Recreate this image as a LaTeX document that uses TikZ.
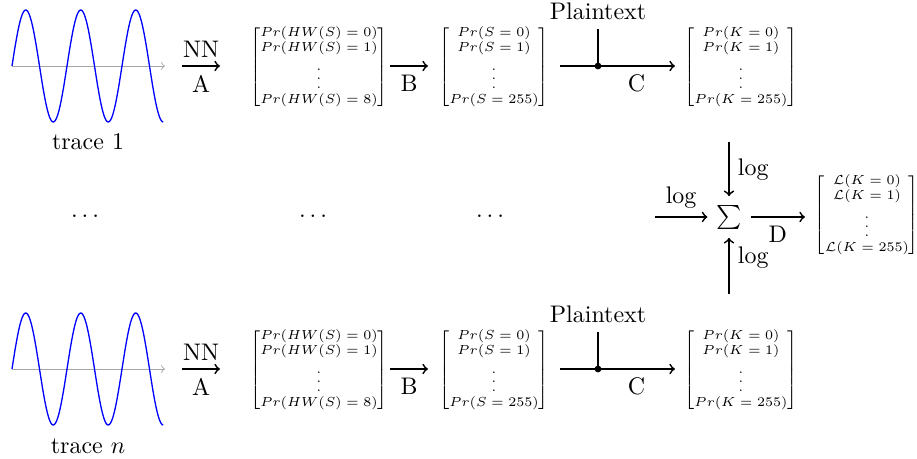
\documentclass[11pt,tikz,border=0pt]{standalone}
\usepackage{amsmath}
\begin{document}
\begin{tikzpicture}[x=0.01605cm, y=-0.01605cm, thick,
        mat/.style={inner sep=0pt, font=\tiny\setlength{\arraycolsep}{2pt}},
        dot/.style={circle, fill, inner sep=1.1pt}]
    \useasboundingbox (0,0) rectangle (917,459);

    % trace 1 a trace n
    \foreach \r/\yy/\name in {1/66/trace 1, n/369/trace $n$}{
        % signal
        \draw[->, thin, gray!70] (12,\yy) -- (165,\yy);
        \draw[blue, semithick] plot[domain=0:990, samples=150, smooth] ({12+\x/360*55}, {\yy-56*sin(\x)});
        \node[anchor=base] (tr\r) at (88,\yy+84) {\name};

        % matice
        \node[mat] (hw\r) at (319,\yy+1) {$\begin{bmatrix}Pr(HW(S)=0)\\Pr(HW(S)=1)\\\vdots\\Pr(HW(S)=8)\end{bmatrix}$};
        \node[mat] (s\r) at (494,\yy+1) {$\begin{bmatrix}Pr(S=0)\\Pr(S=1)\\\vdots\\Pr(S=255)\end{bmatrix}$};
        \node[mat] (k\r) at (741,\yy+1) {$\begin{bmatrix}Pr(K=0)\\Pr(K=1)\\\vdots\\Pr(K=255)\end{bmatrix}$};

        % sipky
        \coordinate (a\r) at (182,\yy);
        \coordinate (b\r) at (220,\yy);
        \draw[->] (a\r) -- (b\r) node[midway, above] (nn\r) {NN} node[midway, below] (la\r) {A};
        \coordinate (c\r) at (390,\yy);
        \coordinate (d\r) at (428,\yy);
        \draw[->] (c\r) -- (d\r) node[midway, below] (lb\r) {B};
        \coordinate (e\r) at (560,\yy);
        \coordinate (f\r) at (675,\yy);
        \node[dot] (p\r) at (598,\yy) {};
        \node[anchor=base] (pt\r) at (598,\yy-46) {Plaintext};
        \draw (e\r) -- (p\r.center);
        \draw[->] (p\r.center) -- (f\r) node[midway, below] (lc\r) {C};
        \draw (pt\r) -- (p\r.center);
    }

    % bodky
    \node (dt1) at (85,216) {$\ldots$};
    \node (dt2) at (313,216) {$\ldots$};
    \node (dt3) at (490,216) {$\ldots$};

    % suma
    \node (sum) at (729,217) {$\sum$};
    \coordinate (lin) at (655,217);
    \coordinate (ltop) at (729,142);
    \coordinate (lbot) at (729,294);
    \coordinate (dend) at (805,217);
    \draw[->] (lin) -- (sum) node[midway, above] (log1) {$\log$};
    \draw[->] (ltop) -- (sum) node[midway, right] (log2) {$\log$};
    \draw[->] (lbot) -- (sum) node[pos=0.65, right] (log3) {$\log$};
    \draw[->] (sum) -- (dend) node[midway, below] (ld) {D};
    \node[mat] (lk) at (867,215) {$\begin{bmatrix}\mathcal{L}(K=0)\\\mathcal{L}(K=1)\\\vdots\\\mathcal{L}(K=255)\end{bmatrix}$};
\end{tikzpicture}
\end{document}
